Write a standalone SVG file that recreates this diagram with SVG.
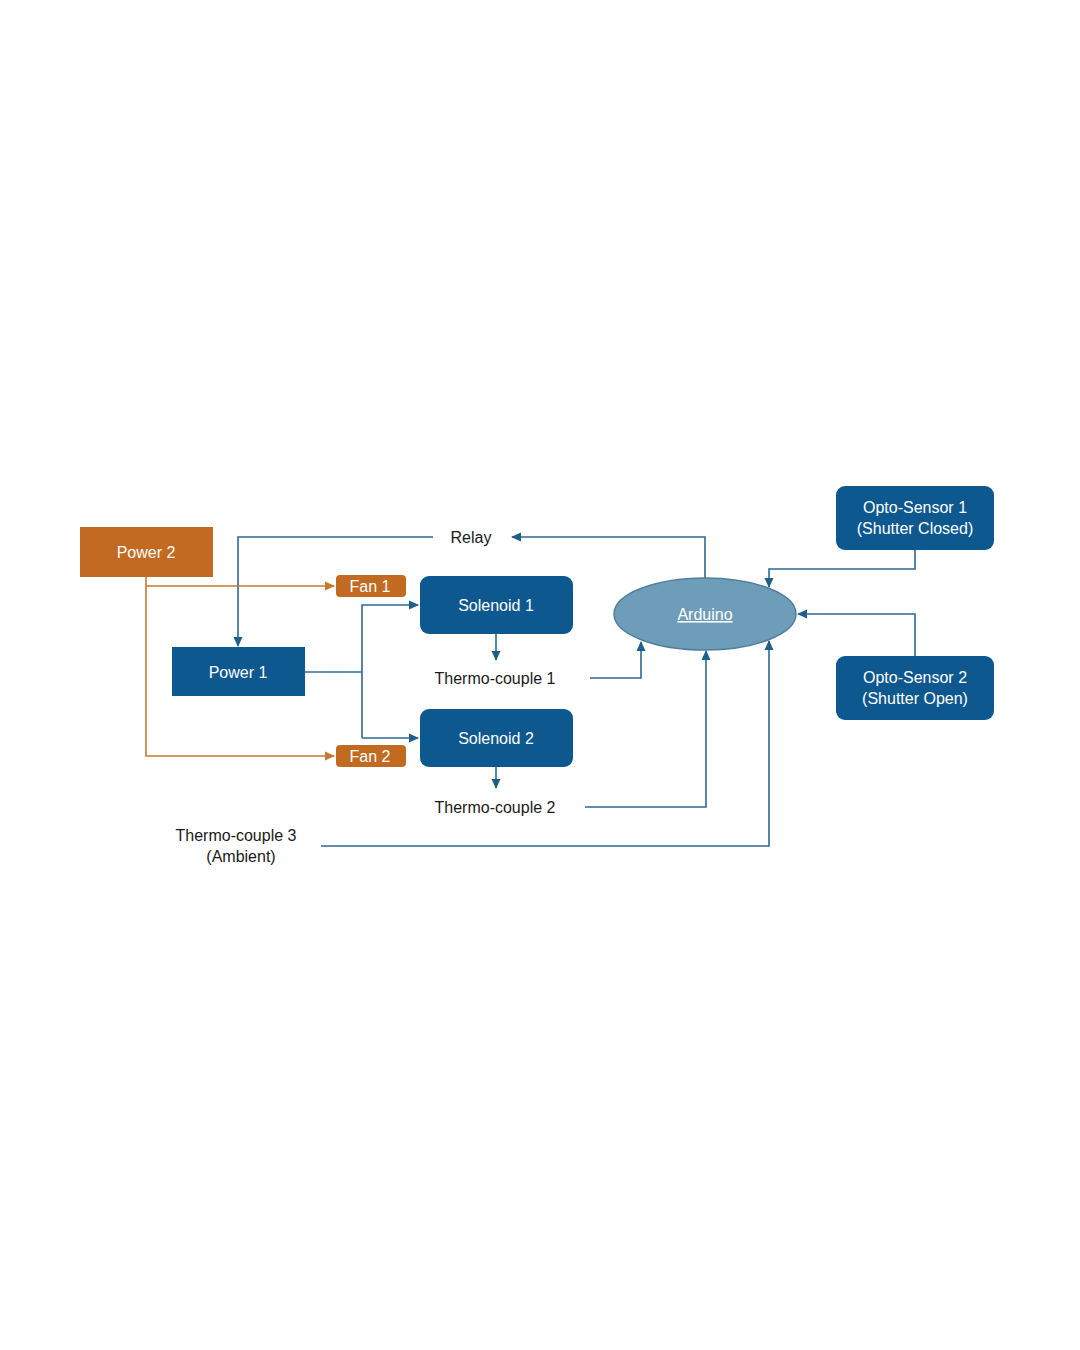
<svg xmlns="http://www.w3.org/2000/svg" width="1080" height="1350" viewBox="0 0 1080 1350">
<style>
.bn{fill:#0E5890;}
.on{fill:#C26A22;}
.wt{fill:#FFFFFF;font-family:"Liberation Sans",Arial,sans-serif;font-size:16px;text-anchor:middle;}
.kt{fill:#1A1A1A;font-family:"Liberation Sans",Arial,sans-serif;font-size:16px;text-anchor:middle;}
.bl{fill:none;stroke:#2B6A94;stroke-width:1.6;}
.ol{fill:none;stroke:#C8782F;stroke-width:1.6;}
</style>
<defs>
<marker id="ab" markerWidth="12" markerHeight="12" refX="9" refY="6" orient="auto" markerUnits="userSpaceOnUse"><path d="M0,1.5 L10,6 L0,10.5 Z" fill="#1F5F8B"/></marker>
<marker id="ao" markerWidth="12" markerHeight="12" refX="9" refY="6" orient="auto" markerUnits="userSpaceOnUse"><path d="M0,1.5 L10,6 L0,10.5 Z" fill="#C8782F"/></marker>
</defs>
<rect width="1080" height="1350" fill="#FFFFFF"/>
<g id="connectors">
<path class="bl" d="M705,579 V537 H512" marker-end="url(#ab)"/>
<path class="bl" d="M433,537 H238 V646" marker-end="url(#ab)"/>
<path class="ol" d="M146,577 V756 H334" marker-end="url(#ao)"/>
<path class="ol" d="M146,586 H334" marker-end="url(#ao)"/>
<path class="bl" d="M305,672 H362"/>
<path class="bl" d="M362,738 V605 H418" marker-end="url(#ab)"/>
<path class="bl" d="M362,738 H418" marker-end="url(#ab)"/>
<path class="bl" d="M496,634 V660" marker-end="url(#ab)"/>
<path class="bl" d="M496,767 V788" marker-end="url(#ab)"/>
<path class="bl" d="M590,678 H641 V642" marker-end="url(#ab)"/>
<path class="bl" d="M585,807 H706 V651" marker-end="url(#ab)"/>
<path class="bl" d="M321,846 H769 V641" marker-end="url(#ab)"/>
<path class="bl" d="M915,550 V569 H769 V587" marker-end="url(#ab)"/>
<path class="bl" d="M915,656 V614 H798" marker-end="url(#ab)"/>
</g>
<g id="power2"><rect class="on" x="80" y="527" width="133" height="50"/><text class="wt" x="146" y="558">Power 2</text></g>
<g id="fan1"><rect class="on" x="336" y="575" width="70" height="22" rx="4"/><text class="wt" x="370" y="592">Fan 1</text></g>
<g id="fan2"><rect class="on" x="336" y="745" width="70" height="22" rx="4"/><text class="wt" x="370" y="762">Fan 2</text></g>
<g id="power1"><rect class="bn" x="172" y="647" width="133" height="49"/><text class="wt" x="238" y="678">Power 1</text></g>
<g id="solenoid1"><rect class="bn" x="420" y="576" width="153" height="58" rx="9"/><text class="wt" x="496" y="611">Solenoid 1</text></g>
<g id="solenoid2"><rect class="bn" x="420" y="709" width="153" height="58" rx="9"/><text class="wt" x="496" y="744">Solenoid 2</text></g>
<g id="relay"><text class="kt" x="471" y="543">Relay</text></g>
<g id="thermo1"><text class="kt" x="495" y="684">Thermo-couple 1</text></g>
<g id="thermo2"><text class="kt" x="495" y="813">Thermo-couple 2</text></g>
<g id="thermo3"><text class="kt" x="236" y="841">Thermo-couple 3</text><text class="kt" x="241" y="862">(Ambient)</text></g>
<g id="arduino"><ellipse cx="705" cy="614" rx="91" ry="36" fill="#6E9DB9" stroke="#4F7F9E" stroke-width="1.5"/><text class="wt" x="705" y="620" text-decoration="underline">Arduino</text></g>
<g id="opto1"><rect class="bn" x="836" y="486" width="158" height="64" rx="9"/><text class="wt" x="915" y="513">Opto-Sensor 1</text><text class="wt" x="915" y="534">(Shutter Closed)</text></g>
<g id="opto2"><rect class="bn" x="836" y="656" width="158" height="64" rx="9"/><text class="wt" x="915" y="683">Opto-Sensor 2</text><text class="wt" x="915" y="704">(Shutter Open)</text></g>
</svg>
